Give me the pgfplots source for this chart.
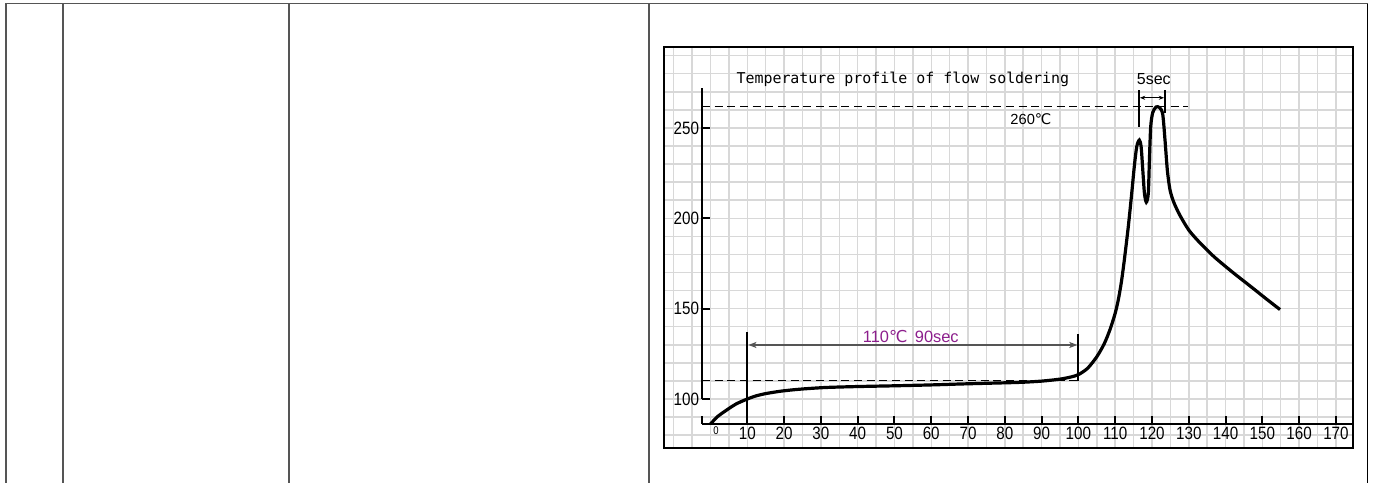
\documentclass[border=0pt]{standalone}
\usepackage{pgfplots}
\pgfplotsset{compat=1.18}
\usetikzlibrary{arrows.meta}
\usepackage{fontspec}
\setmainfont{Liberation Sans}
\newfontfamily\narrow[FakeStretch=0.85]{Liberation Sans}
\newfontfamily\mono{DejaVu Sans Mono}
\newfontfamily\dejavu{DejaVu Sans}
\definecolor{gridgray}{RGB}{216,216,216}
\definecolor{tablegray}{RGB}{85,85,85}
\definecolor{labelpurple}{RGB}{140,30,140}
\definecolor{arrowgray}{RGB}{85,85,85}

\begin{document}
\begin{tikzpicture}
\useasboundingbox (0,0) rectangle (1031.25pt,-362.25pt);
% surrounding table rules (in pixels)
\begin{scope}[x=0.75pt,y=-0.75pt]
  \draw[tablegray, line width=0.8pt] (5,3.5) -- (1368,3.5);
  \foreach \xx in {6,62.7,289,649}
    \draw[tablegray, line width=1.5pt] (\xx,3.5) -- (\xx,483);
  \draw[black, line width=0.8pt] (1367.7,3.5) -- (1367.7,483);
\end{scope}

% graph paper background with frame
\begin{axis}[
    at={(498.225pt,-336pt)}, anchor=south west,
    scale only axis, width=516.75pt, height=300.975pt,
    xmin=-12.558, xmax=174.72, ymin=72.883, ymax=294.96,
    xtick={-10,-5,...,170}, ytick={80,90,...,290},
    xticklabels={}, yticklabels={},
    major tick length=0pt,
    grid=major,
    grid style={draw=gridgray, line width=1.1pt},
    axis line style={line width=1.6pt, black},
  ]
\end{axis}

% temperature profile
\begin{axis}[
    at={(526.5pt,-318pt)}, anchor=south west,
    scale only axis, width=488.475pt, height=251.775pt,
    xmin=-2.31, xmax=174.72, ymin=86.165, ymax=271.94,
    axis x line*=bottom, axis y line*=left,
    x axis line style={line width=1.5pt},
    y axis line style={draw=none},
    xtick={10,20,...,170}, ytick={100,150,200,250},
    tick align=inside,
    major tick length=6pt,
    tick style={black, line width=1.5pt},
    /pgf/number format/assume math mode=true,
    ticklabel style={font=\narrow\fontsize{13.4pt}{15pt}\selectfont},
    xticklabel style={yshift=0pt, inner sep=2pt},
    yticklabel style={inner sep=2pt},
    clip=false,
  ]
  \addplot[black, line width=2.4pt, smooth, tension=0.45] coordinates {
    (0,86.2) (2,90.4) (4.4,93.9) (7,97.3) (10,100) (12.5,101.8)
    (15.3,103.1) (19,104.3) (22.5,105.1) (26,105.7) (31.6,106.4)
    (40,106.9) (49.7,107.3) (60,107.8) (67.8,108.3) (75,108.7)
    (84,109.2) (90,109.9) (95,111.0) (98,112.2) (100,113.5)
    (102.5,117.0) (105,123.4) (107,130.5) (108.6,138.5) (110,147.5)
    (110.9,155.5) (111.7,165) (112.48,176.9) (113.56,195.4)
    (114.49,213.8) (115.19,228.6) (115.85,239.6) (116.55,243.3)
    (117.05,239.6) (117.5,226.7) (117.95,213.8) (118.46,208.9)
    (119.0,213.8) (119.3,232.3) (119.65,250.7) (120.2,258.5)
    (121.1,261.6) (122.04,261.3) (122.91,257.7) (123.54,243.3)
    (124.17,226.7) (124.9,215.7) (125.9,209.0) (127.5,202.0)
    (130,193.5) (133,186.5) (137,178.5) (142,170) (147,162)
    (151,155.5) (154.8,149.5)
  };
  % y axis with break
  \draw[black, line width=1.5pt] (axis cs:-2.31,271.94) -- (axis cs:-2.31,100);
  \draw[black, line width=1.5pt] (axis cs:-2.31,90.4) -- (axis cs:-2.31,86.165);
  \node[font=\narrow\fontsize{8.4pt}{10pt}\selectfont, anchor=north, inner sep=2pt]
    at (axis cs:1.5,86.165) {0};
  % title
  \node[anchor=west, font=\mono\fontsize{11.2pt}{13pt}\selectfont]
    at (axis cs:5.8,277.1) {Temperature profile of flow soldering};
  % 260 C level
  \draw[black, line width=0.75pt, dash pattern=on 6pt off 3.5pt]
    (axis cs:-2.31,261.8) -- (axis cs:129.9,261.8);
  \node[font=\fontsize{11pt}{13pt}\selectfont]
    at (axis cs:87.1,255.0) {260{\dejavu ℃}};
  % 5 sec
  \draw[black, line width=1.5pt] (axis cs:116.4,271.0) -- (axis cs:116.4,250.7);
  \draw[black, line width=1.5pt] (axis cs:123.6,271.0) -- (axis cs:123.6,258.4);
  \draw[black, line width=0.6pt, {Stealth[length=4pt,width=3pt]}-{Stealth[length=4pt,width=3pt]}]
    (axis cs:116.7,266.7) -- (axis cs:123.3,266.7);
  \node[font=\fontsize{12pt}{14pt}\selectfont]
    at (axis cs:120.5,277.1) {5sec};
  % 110 C 90 sec
  \draw[black, line width=0.75pt, dash pattern=on 6pt off 3.5pt]
    (axis cs:-2.31,110.1) -- (axis cs:100,110.1);
  \draw[black, line width=1.5pt] (axis cs:10,137.2) -- (axis cs:10,86.165);
  \draw[black, line width=1.5pt] (axis cs:100,136.0) -- (axis cs:100,110.1);
  \draw[arrowgray, line width=1.1pt, {Stealth[length=6pt,width=4.5pt,inset=1.5pt]}-{Stealth[length=6pt,width=4.5pt,inset=1.5pt]}]
    (axis cs:10.3,129.9) -- (axis cs:99.7,129.9);
  \node[labelpurple, font=\fontsize{12.3pt}{14pt}\selectfont]
    at (axis cs:54.45,134.7) {110{\dejavu ℃}\hspace{0.45em}90sec};
\end{axis}
\end{tikzpicture}
\end{document}
